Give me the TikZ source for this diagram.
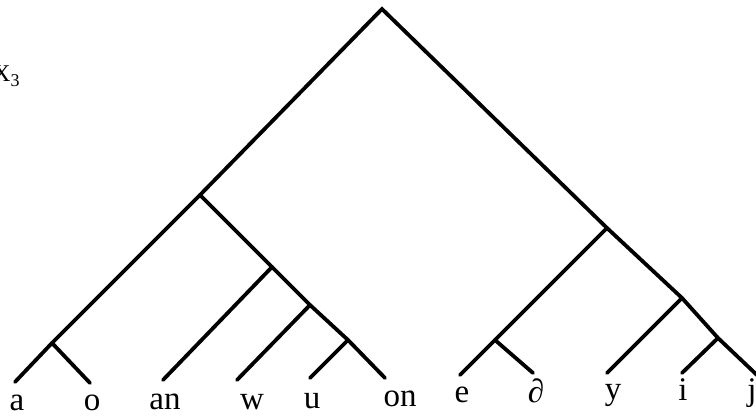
\documentclass[tikz,border=0pt]{standalone}
\usepackage{fontspec}
\setmainfont{Liberation Serif}
\begin{document}
\begin{tikzpicture}[x=1pt,y=-1pt,
  branch/.style={line width=3.8pt,line cap=round,line join=miter},
  leaf/.style={anchor=base,inner sep=0pt,font=\fontsize{33}{36}\selectfont}]
\useasboundingbox (0,0) rectangle (756,417);
\coordinate (root) at (382,9);
\coordinate (L) at (200,195);
\coordinate (ao) at (52,343);
\coordinate (aend) at (15,382);
\coordinate (oend) at (90,383);
\coordinate (n1) at (272,267);
\coordinate (n2) at (310,305);
\coordinate (n3) at (348,340);
\coordinate (anend) at (163,380);
\coordinate (wend) at (237,380);
\coordinate (uend) at (310,378);
\coordinate (onend) at (385,378);
\coordinate (R) at (607,228);
\coordinate (ed) at (495,340);
\coordinate (eend) at (460,375);
\coordinate (dend) at (533,373);
\coordinate (n4) at (682,298);
\coordinate (yend) at (607,373);
\coordinate (n5) at (718,338);
\coordinate (iend) at (682,373);
\coordinate (jend) at (758,376);
\draw[branch] (aend) -- (ao) -- (L) -- (root) -- (R) -- (n4) -- (n5) -- (jend);
\draw[branch] (ao) -- (oend);
\draw[branch] (L) -- (n1) -- (n2) -- (n3) -- (onend);
\draw[branch] (n1) -- (anend);
\draw[branch] (n2) -- (wend);
\draw[branch] (n3) -- (uend);
\draw[branch] (R) -- (ed) -- (eend);
\draw[branch] (ed) -- (dend);
\draw[branch] (n4) -- (yend);
\draw[branch] (n5) -- (iend);
\node[leaf] (la) at (17,410) {a};
\node[leaf] (lo) at (92,410) {o};
\node[leaf] (lan) at (165,409) {an};
\node[leaf] (lw) at (252,409) {w};
\node[leaf] (lu) at (312,408) {u};
\node[leaf] (lon) at (400,406) {on};
\node[leaf] (le) at (462,402) {e};
\node[leaf] (ld) at (536,402) {∂};
\node[leaf] (ly) at (613,399) {y};
\node[leaf] (li) at (683,400) {i};
\node[leaf] (lj) at (752,400) {j};
\node[anchor=base west,inner sep=0pt,font=\fontsize{24}{26}\selectfont] (lab) at (-7,82) {X\raisebox{-5pt}{\fontsize{18}{20}\selectfont 3}};
\end{tikzpicture}
\end{document}
